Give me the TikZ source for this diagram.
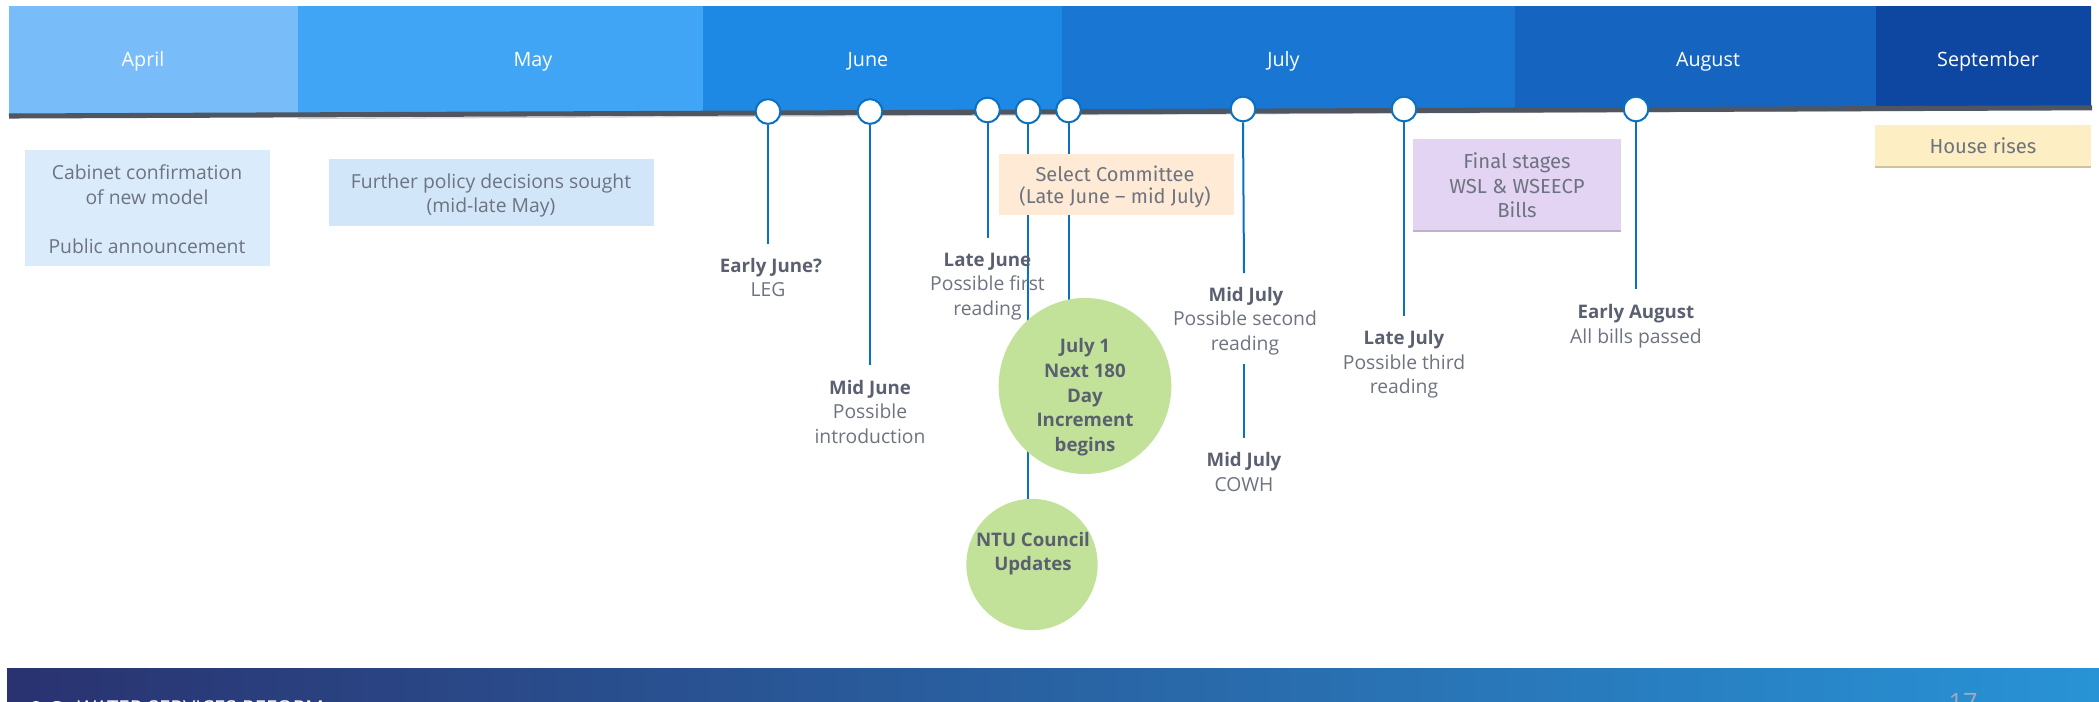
\documentclass[tikz,border=0pt]{standalone}
\usetikzlibrary{shapes.geometric}
\usepackage{fontspec}
\setmainfont{Open Sans}
\newfontfamily\firaf{Fira Sans}
\definecolor{txtg}{HTML}{6E7380}
\definecolor{txtb}{HTML}{5A6070}
\definecolor{linkb}{HTML}{0A70C0}
\definecolor{mApr}{HTML}{78BCFA}
\definecolor{mMay}{HTML}{41A5F6}
\definecolor{mJun}{HTML}{1E88E5}
\definecolor{mJul}{HTML}{1976D2}
\definecolor{mAug}{HTML}{1565C0}
\definecolor{mSep}{HTML}{0D47A1}
\definecolor{rail}{HTML}{50565F}
\definecolor{greenb}{HTML}{C2E29A}
\tikzset{
  x=0.75pt,y=-0.75pt,
  monthlabel/.style={text=white,font=\fontsize{14.8}{17}\selectfont,inner sep=0pt},
  lbl/.style={text=txtg,font=\fontsize{14.5}{18.4}\selectfont,align=center,inner sep=0pt},
  lblf/.style={text=txtg,font=\firaf\fontsize{15.2}{18.4}\selectfont,align=center,inner sep=0pt},
  lblb/.style={text=txtb,font=\fontsize{14}{18.4}\selectfont\bfseries,align=center,inner sep=0pt},
  stem/.style={draw=linkb,line width=1.5pt},
  pin/.style={circle,draw=linkb,fill=white,line width=1.5pt,minimum size=18.5pt,inner sep=0pt},
}
\begin{document}
\begin{tikzpicture}
\useasboundingbox (0,0) rectangle (2099,701);
\fill[mApr] (9,6) -- (298,6) -- (298,113) -- (9,114) -- cycle;
\fill[mMay] (298,6) -- (703,6) -- (703,112) -- (298,113) -- cycle;
\fill[mJun] (703,6) -- (1062,6) -- (1062,110) -- (703,112) -- cycle;
\fill[mJul] (1062,6) -- (1515,6) -- (1515,109) -- (1062,110) -- cycle;
\fill[mAug] (1515,6) -- (1876,6) -- (1876,107) -- (1515,109) -- cycle;
\fill[mSep] (1876,6) -- (2091,6) -- (2091,106) -- (1876,107) -- cycle;
\node[monthlabel] (mapr) at (143,61.5) {April};
\node[monthlabel] (mmay) at (533,61.5) {May};
\node[monthlabel] (mjun) at (868,61.5) {June};
\node[monthlabel] (mjul) at (1283.5,61.5) {July};
\node[monthlabel] (maug) at (1708,61.5) {August};
\node[monthlabel] (msep) at (1988,61.5) {September};
\coordinate (railL) at (9,116);
\coordinate (railR) at (2092,107.8);
\coordinate (shadL) at (298,118.6);
\coordinate (shadR) at (1900,110.6);
\draw[black!18,line width=0.8pt] (shadL) -- (shadR);
\draw[rail,line width=3.8pt] (railL) -- (railR);
% pins
\node[pin] (p1) at (768,111.5) {};
\node[pin] (p2) at (870,111.5) {};
\node[pin] (p3) at (987.5,110) {};
\node[pin] (p4) at (1028,111) {};
\node[pin] (p5) at (1068.5,110) {};
\node[pin] (p6) at (1243,109) {};
\node[pin] (p7) at (1404,109) {};
\node[pin] (p8) at (1636,109) {};
% free stem ends
\coordinate (e1) at (768,244);
\coordinate (e2) at (870,365);
\coordinate (e3) at (987.5,238);
\coordinate (e6) at (1244,273);
\coordinate (s6a) at (1244,364);
\coordinate (s6b) at (1244,438);
\coordinate (e7) at (1404,316);
\coordinate (e8) at (1636,289);
\coordinate (e4) at (1027,505);
\coordinate (e5) at (1068.5,310);
\draw[stem] (p1.south) -- (e1);
\draw[stem] (p2.south) -- (e2);
\draw[stem] (p3.south) -- (e3);
\draw[stem] (p4.south) -- (p4.south |- e4);
\draw[stem] (p5.south) -- (p5.south |- e5);
\draw[stem] (p6.south) -- (e6);
\draw[stem] (s6a) -- (s6b);
\draw[stem] (p7.south) -- (e7);
\draw[stem] (p8.south) -- (e8);
% boxes
\path[fill={rgb,255:red,218;green,235;blue,251}] (25,150) rectangle (270,266);
\path[fill={rgb,255:red,210;green,230;blue,250}] (329,159) rectangle (654,226);
\path[fill={rgb,255:red,255;green,234;blue,213}] (999,154) rectangle (1234,215);
\path[fill={rgb,255:red,226;green,212;blue,242}] (1413,139) rectangle (1621,231);
\draw[color={rgb,255:red,190;green,178;blue,205},line width=0.8pt] (1413,231) -- (1621,231);
\path[fill={rgb,255:red,253;green,239;blue,195}] (1875,125) rectangle (2091,167);
\draw[color={rgb,255:red,205;green,195;blue,160},line width=0.8pt] (1875,167) -- (2091,167);
\node[lbl] (tcab) at (147,209.3) {Cabinet confirmation\\of new model\\[18.4pt]Public announcement};
\node[lbl] (tfur) at (491,195.5) {Further policy decisions sought\\(mid-late May)};
\node[lblf,font=\firaf\fontsize{15}{16.6}\selectfont] (tsel) at (1115,187) {Select Committee\\(Late June – mid July)};
\node[lblf] (tfin) at (1517,185.5) {Final stages\\WSL \& WSEECP\\Bills};
\node[lblf] (thou) at (1983,146) {House rises};
% ovals
\node[ellipse,fill=greenb,minimum width=129.5pt,minimum height=132pt,inner sep=0pt] (ov1) at (1085,386) {};
\node[circle,fill=greenb,minimum size=98.5pt,inner sep=0pt] (ov2) at (1032,564.5) {};
\node[lblb] (tov1) at (1085,397.2) {July 1\\Next 180\\Day\\Increment\\begins};
\node[lblb] (tov2) at (1033,553.5) {NTU Council\\Updates};
% milestone labels
\node[lblb] (l1a) at (771,267.4) {Early June?};
\node[lbl] (l1b) at (768,290) {LEG};
\node[lblb] (l3a) at (987.5,262) {Late June};
\node[lbl] (l3b) at (987.5,298) {Possible first\\reading};
\node[lblb] (l2a) at (870,389.7) {Mid June};
\node[lbl] (l2b) at (870,423.7) {Possible\\introduction};
\node[lblb] (l6a) at (1246,297) {Mid July};
\node[lbl] (l6b) at (1245,333) {Possible second\\reading};
\node[lblb] (l7a) at (1404,340) {Late July};
\node[lbl] (l7b) at (1404,376.7) {Possible third\\reading};
\node[lblb] (l9a) at (1244,462) {Mid July};
\node[lbl] (l9b) at (1244,485) {COWH};
\node[lblb] (l8a) at (1636,313.7) {Early August};
\node[lbl] (l8b) at (1636,338) {All bills passed};
% footer
\begin{scope}
\clip (7,668) rectangle (2099,701);
\shade[left color={rgb,255:red,42;green,50;blue,112},right color={rgb,255:red,40;green,147;blue,214}] (7,668) rectangle (2099,701);
\fill[white] (36,707) ellipse (6 and 6);
\fill[white] (57,707) ellipse (8 and 6);
\node[text=white,font=\fontsize{15.4}{18}\selectfont,anchor=base west,inner sep=0pt] (ftxt) at (77,715.5) {WATER SERVICES REFORM};
\node[text={rgb,255:red,160;green,170;blue,185},font=\fontsize{19}{22}\selectfont,anchor=base,inner sep=0pt] (fnum) at (1963,711) {17};
\end{scope}
\end{tikzpicture}
\end{document}
